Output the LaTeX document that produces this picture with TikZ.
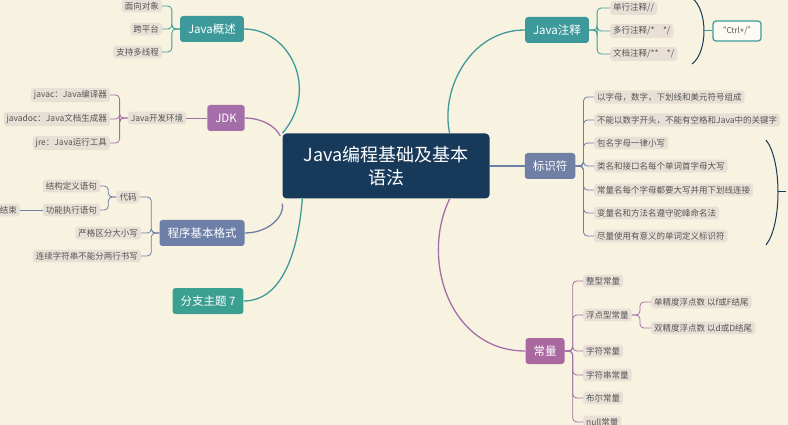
\documentclass[tikz,border=0pt]{standalone}
\usepackage{fontspec}
\setmainfont{Noto Sans CJK SC}
\usetikzlibrary{positioning}
\definecolor{bgcream}{HTML}{F8F3E0}
\definecolor{navy}{HTML}{173A5A}
\definecolor{tealA}{HTML}{3E9A9A}
\definecolor{plum}{HTML}{A46FA8}
\definecolor{slate}{HTML}{6E7FA8}
\definecolor{leafbg}{HTML}{E8E0D6}
\definecolor{leaftxt}{HTML}{555555}
\begin{document}
\begin{tikzpicture}[x=1pt,y=-1pt,
  topic/.style={rounded corners=3pt, text=white, font=\fontsize{11.5}{13}\selectfont,
    minimum height=26pt, inner xsep=8pt},
  leaf/.style={rounded corners=3pt, fill=leafbg, text=leaftxt,
    font=\fontsize{8.5}{10}\selectfont, inner xsep=3pt, inner ysep=2.5pt},
  branch/.style={line width=1.3pt},
  twig/.style={line width=0.8pt, rounded corners=4pt}]
\fill[bgcream] (0,0) rectangle (788,425);
\useasboundingbox (0,0) rectangle (788,425);

% central topic
\node (root) [fill=navy, rounded corners=4pt, text=white, align=center,
  minimum width=207pt, minimum height=65pt,
  font=\fontsize{18}{23}\selectfont] at (386,166) {Java编程基础及基本\\语法};

% left side
\node (overview) [topic, fill=tealA] at (212,29) {Java概述};
\node (oop) [leaf, anchor=east] at (162,6) {面向对象};
\node (cross) [leaf, anchor=east] at (162,29) {跨平台};
\node (thread) [leaf, anchor=east] at (162,52) {支持多线程};

\node (jdk) [topic, fill=plum] at (226,118) {JDK};
\node (devenv) [leaf] at (157,118) {Java开发环境};
\node (javac) [leaf, anchor=east] at (110,95) {javac：Java编译器};
\node (javadoc) [leaf, anchor=east] at (110,119) {javadoc：Java文档生成器};
\node (jre) [leaf, anchor=east] at (110,143) {jre：Java运行工具};

\node (format) [topic, fill=slate] at (202,233) {程序基本格式};
\node (code) [leaf] at (128,197) {代码};
\node (casesens) [leaf, anchor=east] at (141,233) {严格区分大小写};
\node (nosplit) [leaf, anchor=east] at (141,256) {连续字符串不能分两行书写};
\node (structdef) [leaf, anchor=east] at (100,186) {结构定义语句};
\node (funcexec) [leaf, anchor=east] at (100,210) {功能执行语句};
\node (finish) [leaf, anchor=east] at (20,210) {结束};

\node (branch7) [topic, fill=tealA!95!green] at (208,301) {分支主题 7};

% right side
\node (comment) [topic, fill=tealA] at (557,30) {Java注释};
\node (single) [leaf, anchor=west] at (610,8) {单行注释//};
\node (multi) [leaf, anchor=west] at (610,31) {多行注释/*\quad */};
\node (doc) [leaf, anchor=west] at (610,54) {文档注释/**\quad */};
\node (ctrl) [draw=tealA, line width=1.2pt, rounded corners=3pt, fill=white!60!bgcream,
  text=leaftxt, font=\fontsize{8}{9}\selectfont, minimum width=48pt,
  minimum height=20pt] at (737,31) {\char"201C Ctrl+/\char"201D};

\node (ident) [topic, fill=slate!90!gray] at (550,166) {标识符};
\foreach \nm/\yy/\tx in {i1/97/以字母，数字，下划线和美元符号组成,
    i2/120/不能以数字开头，不能有空格和Java中的关键字,
    i3/143/包名字母一律小写, i4/166/类名和接口名每个单词首字母大写,
    i5/190/常量名每个字母都要大写并用下划线连接,
    i6/213/变量名和方法名遵守驼峰命名法, i7/236/尽量使用有意义的单词定义标识符}
  \node (\nm) [leaf, anchor=west] at (594,\yy) {\tx};

\node (const) [topic, fill=plum!95!red] at (545,351) {常量};
\foreach \nm/\yy/\tx in {c1/281/整型常量, c2/315/浮点型常量, c3/351/字符常量,
    c4/375/字符串常量, c5/398/布尔常量, c6/422/null常量}
  \node (\nm) [leaf, anchor=west] at (583,\yy) {\tx};
\node (fsingle) [leaf, anchor=west] at (651,302) {单精度浮点数 以f或F结尾};
\node (fdouble) [leaf, anchor=west] at (651,328) {双精度浮点数 以d或D结尾};

% main branches
\draw[branch, tealA] (overview.east) .. controls (290,29) and (320,90) .. (root.north west);
\draw[branch, plum] (jdk.east) .. controls (260,118) and (275,125) .. ([xshift=-2pt]root.west |- 0,136);
\draw[branch, slate] (format.east) .. controls (270,233) and (285,215) .. ([yshift=-5pt]root.south west);
\draw[branch, tealA] (branch7.east) .. controls (290,301) and (300,230) .. ([xshift=20pt]root.south west);
\draw[branch, tealA] (comment.west) .. controls (470,30) and (440,90) .. ([xshift=-40pt]root.north east);
\draw[branch, slate] (ident.west) -- (root.east);
\draw[branch, plum] (const.west) .. controls (450,351) and (420,260) .. ([xshift=-40pt]root.south east);

% sub branches
\foreach \c in {oop,cross,thread}
  \draw[twig, tealA] (overview.west) -- ++(-8,0) |- (\c.east);
\draw[twig, plum] (jdk.west) -- (devenv.east);
\foreach \c in {javac,javadoc,jre}
  \draw[twig, plum] (devenv.west) -- ++(-8,0) |- (\c.east);
\foreach \c in {code,casesens,nosplit}
  \draw[twig, slate] (format.west) -- ++(-8,0) |- (\c.east);
\foreach \c in {structdef,funcexec}
  \draw[twig, slate] (code.west) -- ++(-8,0) |- (\c.east);
\draw[twig, slate] (funcexec.west) -- (finish.east);
\foreach \c in {single,multi,doc}
  \draw[twig, tealA] (comment.east) -- ++(8,0) |- (\c.west);
\foreach \c in {i1,i2,i3,i4,i5,i6,i7}
  \draw[twig, slate] (ident.east) -- ++(8,0) |- (\c.west);
\foreach \c in {c1,c2,c3,c4,c5,c6}
  \draw[twig, plum] (const.east) -- ++(8,0) |- (\c.west);
\foreach \c in {fsingle,fdouble}
  \draw[twig, plum] (c2.east) -- ++(8,0) |- (\c.west);

% summaries
\coordinate (cbrace) at (704,31);
\draw[line width=1pt, navy] (692,-2) .. controls (708,10) and (708,52) .. (692,64);
\draw[line width=1pt, tealA] (cbrace) -- (ctrl.west);
\draw[line width=1pt, navy] (766,140) .. controls (782,160) and (782,225) .. (766,245);
\coordinate (ibrace) at (778,192);
\draw[line width=1pt, navy] (ibrace) -- ++(8,0);
\end{tikzpicture}
\end{document}
